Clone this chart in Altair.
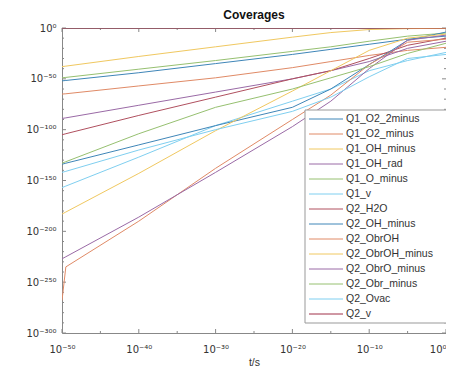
import altair as alt
import pandas as pd

# time grid (exponents of t/s) at which the curves were read
T_EXP = [-50, -49.5, -40, -30, -20, -15, -10, -5, 0]

SERIES = ["Q1_O2_2minus", "Q1_O2_minus", "Q1_OH_minus", "Q1_OH_rad", "Q1_O_minus",
          "Q1_v", "Q2_H2O", "Q2_OH_minus", "Q2_ObrOH", "Q2_ObrOH_minus",
          "Q2_ObrO_minus", "Q2_Obr_minus", "Q2_Ovac", "Q2_v"]

# exponents of the coverage
Q1_O2_2minus   = [-52, -51.6, -44, -35, -26, -21, -16, -11, -8]
Q1_O2_minus    = [-65, -64.7, -57, -49, -39, -33, -27, -22, -19]
Q1_OH_minus    = [-38, -37.5, -28, -18.5, -9, -4.5, -1.5, -0.6, -0.3]
Q1_OH_rad      = [-89, -88.4, -76, -63, -50, -42, -33, -20, -13]
Q1_O_minus     = [-49, -48.6, -40.5, -32, -23, -18.5, -13, -8, -5]
Q1_v           = [-157, -155.5, -127, -96, -72, -60, -42, -32, -24]
Q2_H2O         = [-105, -104, -86, -68, -50, -42, -30, -17, -10]
Q2_OH_minus    = [-134, -133, -115, -96, -78, -60, -36, -12, -4]
Q2_ObrOH       = [-268, -235, -190, -138, -90, -66, -36, -14, -11]
Q2_ObrOH_minus = [-183, -181, -143, -101, -62, -42, -22, -10, -6]
Q2_ObrO_minus  = [-227, -225, -186, -142, -97, -72, -40, -12, -7]
Q2_Obr_minus   = [-133, -131.5, -104, -78, -60, -49, -38, -25, -15]
Q2_Ovac        = [-142, -141, -120, -100, -82, -68, -48, -30, -26]
Q2_v           = [0, 0, 0, 0, 0, 0, 0, 0, 0]

VALUES = [Q1_O2_2minus, Q1_O2_minus, Q1_OH_minus, Q1_OH_rad, Q1_O_minus, Q1_v,
          Q2_H2O, Q2_OH_minus, Q2_ObrOH, Q2_ObrOH_minus, Q2_ObrO_minus,
          Q2_Obr_minus, Q2_Ovac, Q2_v]

COLORS = ["#3f86b8", "#e08a66", "#f0c860", "#9a6aa6", "#96c070", "#7fcff0", "#b0505f",
          "#3f86b8", "#e08a66", "#f0c860", "#9a6aa6", "#96c070", "#7fcff0", "#a03048"]

X_MAJOR = [-50, -40, -30, -20, -10, 0]
X_MINOR = [-45, -35, -25, -15, -5]
Y_MAJOR = [0, -50, -100, -150, -200, -250, -300]
Y_MINOR = [e for e in range(-290, 0, 10) if e % 50 != 0]

rows = []
for name, vals in zip(SERIES, VALUES):
    for t, v in zip(T_EXP, vals):
        rows.append({"series": name, "t": 10.0 ** t, "theta": 10.0 ** v})
df = pd.DataFrame(rows)
legend_df = pd.DataFrame({"series": SERIES})
box_df = pd.DataFrame({"k": [0]})

W, H = 384, 305
FONT = "Liberation Sans"
LFONT = "DejaVu Sans"

sup = {"0": "⁰", "1": "¹", "2": "²", "3": "³", "4": "⁴", "5": "⁵",
       "6": "⁶", "7": "⁷", "8": "⁸", "9": "⁹", "-": "⁻"}
expr = "'' + round(log(datum.value)/LN10)"
for k, v in sup.items():
    expr = f"replace({expr}, regexp('{k}','g'), '{v}')"
label_expr = "'10' + " + expr

xscale = alt.Scale(type="log", domain=[1e-50, 1], nice=False)
yscale = alt.Scale(type="log", domain=[1e-300, 1], nice=False)
cscale = alt.Scale(domain=SERIES, range=COLORS)

x_axis = alt.Axis(values=[10.0 ** e for e in X_MAJOR], labelExpr=label_expr,
                  ticks=False, domain=False, grid=False, labelPadding=11,
                  labelFontSize=10, titleFontSize=10.5, titleFontWeight="normal",
                  titlePadding=3, labelFont=LFONT, titleFont=FONT,
                  labelColor="#333", titleColor="#333", labelFlush=False,
                  labelAlign={"condition": {"test": "datum.value >= 0.5", "value": "right"},
                              "value": "center"})

lines = alt.Chart(df).mark_line(strokeWidth=1, clip=True).encode(
    x=alt.X("t:Q", scale=xscale, title="t/s", axis=x_axis),
    y=alt.Y("theta:Q", scale=yscale, title=None,
            axis=alt.Axis(values=[10.0 ** e for e in Y_MAJOR], labelExpr=label_expr,
                          ticks=False, domain=False, grid=False, labelPadding=6,
                          labelFontSize=10, labelFont=LFONT, labelColor="#333")),
    color=alt.Color("series:N", scale=cscale, legend=None),
    detail="series:N",
)

def xticks(vals, length, at_top):
    d = pd.DataFrame({"v": [10.0 ** e for e in vals]})
    if at_top:
        yy = dict(y=alt.value(0), y2=alt.value(length))
    else:
        yy = dict(y=alt.value(H), y2=alt.value(H - length))
    return alt.Chart(d).mark_rule(color="#888", strokeWidth=1).encode(
        x=alt.X("v:Q", scale=xscale, title="t/s", axis=x_axis), **yy)

def yticks(vals, length, at_right):
    d = pd.DataFrame({"v": [10.0 ** e for e in vals]})
    if at_right:
        xx = dict(x=alt.value(W), x2=alt.value(W - length))
    else:
        xx = dict(x=alt.value(0), x2=alt.value(length))
    return alt.Chart(d).mark_rule(color="#888", strokeWidth=1).encode(
        y=alt.Y("v:Q", scale=yscale, axis=None), **xx)

ticks = [xticks(X_MAJOR, 4, False), xticks(X_MINOR, 2, False),
         xticks(X_MAJOR, 4, True), xticks(X_MINOR, 2, True),
         yticks(Y_MAJOR, 4, False), yticks(Y_MINOR, 2, False),
         yticks(Y_MAJOR, 4, True), yticks(Y_MINOR, 2, True)]

# legend (built by hand so rows can be compact with long line samples)
ROW0, ROWSTEP = 91, 15
rowscale = alt.Scale(type="point", domain=SERIES, range=[ROW0, ROW0 + ROWSTEP * (len(SERIES) - 1)],
                     padding=0)
leg_box = alt.Chart(box_df).mark_rect(fill="white", stroke="#999", strokeWidth=1).encode(
    x=alt.value(243), x2=alt.value(385), y=alt.value(82), y2=alt.value(295))
leg_lines = alt.Chart(legend_df).mark_rule(strokeWidth=1).encode(
    y=alt.Y("series:N", scale=rowscale, axis=None),
    x=alt.value(247), x2=alt.value(281),
    color=alt.Color("series:N", scale=cscale, legend=None))
leg_text = alt.Chart(legend_df).mark_text(align="left", baseline="middle", fontSize=10.5,
                                          font=FONT, color="#333").encode(
    y=alt.Y("series:N", scale=rowscale, axis=None),
    x=alt.value(284), text="series:N")

chart = alt.layer(*ticks, lines, leg_box, leg_lines, leg_text).resolve_scale(
    y="independent"
).properties(
    width=W, height=H,
    title=alt.TitleParams("Coverages", fontSize=12, fontWeight="bold", font=FONT,
                          offset=1, color="#111"),
    autosize=alt.AutoSizeParams(type="none"),
    padding={"left": 54, "top": 20, "right": 0, "bottom": 35},
).configure_view(stroke="#888", strokeWidth=1)

chart.save("out.html", embed_options={"renderer": "svg", "actions": False})
